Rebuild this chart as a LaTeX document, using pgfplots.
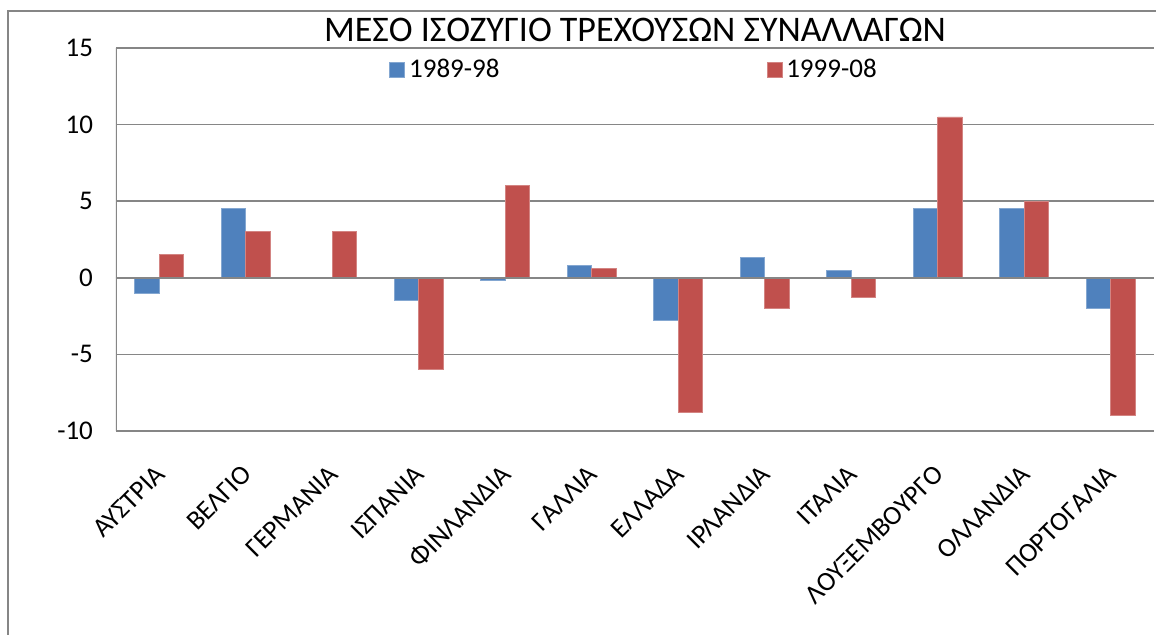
\documentclass[border=0pt]{standalone}
\usepackage{pgfplots}
\pgfplotsset{compat=1.18}
\usepackage{fontspec}
\setmainfont{Carlito}
\definecolor{xlblue}{HTML}{4F81BD}
\definecolor{xlred}{HTML}{C0504D}
\definecolor{xlgrid}{HTML}{868686}
\begin{document}
\begin{tikzpicture}
\useasboundingbox (0,0) rectangle (578pt,317.5pt);
\fill[white] (0,0) rectangle (578pt,317.5pt);
\draw[xlgrid, line width=0.8pt] (4pt,0) -- (4pt,312pt) -- (578pt,312pt);
\begin{axis}[
  name=ax,
  at={(58pt,102pt)}, anchor=south west,
  scale only axis, width=519pt, height=191.5pt,
  xmin=-0.5, xmax=11.5, ymin=-10, ymax=15,
  ytick={-10,-5,0,5,10,15},
  xtick={0,...,11},
  xticklabels={ΑΥΣΤΡΙΑ,ΒΕΛΓΙΟ,ΓΕΡΜΑΝΙΑ,ΙΣΠΑΝΙΑ,ΦΙΝΛΑΝΔΙΑ,ΓΑΛΛΙΑ,ΕΛΛΑΔΑ,ΙΡΛΑΝΔΙΑ,ΙΤΑΛΙΑ,ΛΟΥΞΕΜΒΟΥΡΓΟ,ΟΛΛΑΝΔΙΑ,ΠΟΡΤΟΓΑΛΙΑ},
  major tick length=0pt,
  axis line style={draw=none},
  ymajorgrids, grid style={xlgrid, line width=0.75pt},
  ybar=0pt, bar width=12.25pt,
  /pgf/number format/assume math mode=true,
  yticklabel style={font=\fontsize{13.5}{16}\selectfont, xshift=-8pt},
  xticklabel style={font=\fontsize{13.5}{16}\selectfont, xshift=3pt, yshift=-17pt, rotate=45, anchor=east},
  legend style={at={(0.5,0.9426)}, anchor=center, draw=none, fill=none,
    legend columns=2, font=\fontsize{13.5}{16}\selectfont,
    /tikz/every even column/.append style={column sep=131.5pt}},
  legend image code/.code={\fill[#1] (-4pt,-3.75pt) rectangle (3.5pt,3.75pt);},
]
\addplot[fill=xlblue, draw=xlblue!70!white, line width=0.4pt] coordinates {
 (0,-1) (1,4.5) (3,-1.5) (4,-0.2) (5,0.8) (6,-2.8) (7,1.3) (8,0.5) (9,4.5) (10,4.5) (11,-2)};
\addplot[fill=xlred, draw=xlred!70!white, line width=0.4pt] coordinates {
 (0,1.5) (1,3) (2,3) (3,-6) (4,6) (5,0.6) (6,-8.8) (7,-2) (8,-1.3) (9,10.5) (10,5) (11,-9)};
\legend{1989-98,1999-08}
\draw[xlgrid, line width=0.75pt] (rel axis cs:0,0) -- (rel axis cs:0,1);
\draw[xlgrid, line width=0.75pt] (axis cs:-0.5,0) -- (axis cs:11.5,0);
\end{axis}
\node[anchor=base, font=\fontsize{18}{21}\selectfont, inner sep=0pt] at ([yshift=3pt]ax.north) {ΜΕΣΟ ΙΣΟΖΥΓΙΟ ΤΡΕΧΟΥΣΩΝ ΣΥΝΑΛΛΑΓΩΝ};
\end{tikzpicture}
\end{document}
